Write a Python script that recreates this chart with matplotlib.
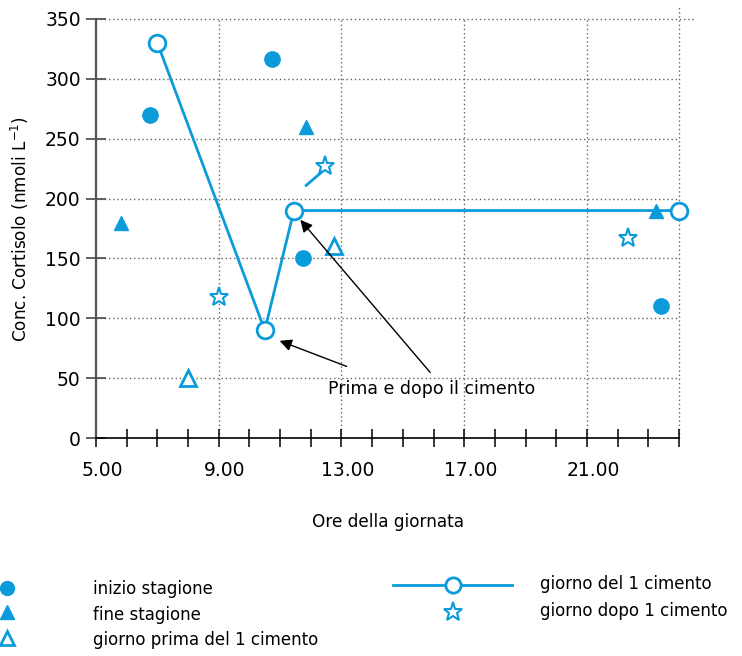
import numpy as np
import matplotlib
matplotlib.use("Agg")
import matplotlib.pyplot as plt
import matplotlib.transforms as mtransforms

# ore della giornata / conc. cortisolo (nmoli L-1)
inizio_x = [6.75, 10.75, 11.75, 23.4]
inizio_y = [270, 317, 150, 110]

fine_x = [5.8, 11.85, 23.25]
fine_y = [180, 260, 190]

prima_x = [8.0, 12.75]
prima_y = [50, 160]

cimento_x = [7.0, 10.5, 11.45, 24.0]
cimento_y = [330, 90, 190, 190]

dopo_x = [9.0, 12.45, 22.35]
dopo_y = [118, 227, 167]

# short stray stroke next to the star at 12.45
tratto_x = [11.85, 12.35]
tratto_y = [211, 222]

xticks = [5, 9, 13, 17, 21]
xticklabels = ["5.00", "9.00", "13.00", "17.00", "21.00"]
yticks = [0, 50, 100, 150, 200, 250, 300, 350]

blue = "#0b9bda"

fig = plt.figure(figsize=(7.42, 6.56), dpi=100)
ax = fig.add_axes([96 / 742, 1 - 438 / 656, (679 - 96) / 742, (438 - 19) / 656])

ax.set_xlim(5, 24)
ax.set_ylim(0, 350)

# grid
for yv in yticks[1:]:
    ax.axhline(yv, color="#666666", lw=1, ls=(0, (1, 2)), zorder=0,
               xmax=1.025 if yv == 350 else 1, clip_on=False)
for xv in [9, 13, 17, 21]:
    ax.axvline(xv, color="#666666", lw=1, ls=(0, (1, 2)), zorder=0)
ax.axvline(24, color="#666666", lw=1, ls=(0, (1, 2)), zorder=0, ymax=1.03, clip_on=False)

ax.plot(inizio_x, inizio_y, "o", color=blue, ms=11, ls="none", zorder=3)
ax.plot(fine_x, fine_y, "^", color=blue, ms=10, ls="none", zorder=3)
ax.plot(prima_x, prima_y, "^", mfc="white", mec=blue, mew=2, ms=12, ls="none", zorder=3)
ax.plot(cimento_x, cimento_y, "-o", color=blue, lw=2, mfc="white", mec=blue, mew=2,
        ms=12, zorder=4, clip_on=False)
ax.plot(dopo_x, dopo_y, "*", mfc="white", mec=blue, mew=1.5, ms=14, ls="none", zorder=3)
ax.plot(tratto_x, tratto_y, "-", color=blue, lw=2, zorder=3)

# annotation
ax.text(12.55, 41, "Prima e dopo il cimento", fontsize=12.5, va="center", ha="left")
ax.annotate("", xy=(10.9, 82), xytext=(13.25, 59),
            arrowprops=dict(arrowstyle="-|>", color="black", lw=1, mutation_scale=18))
ax.annotate("", xy=(11.6, 184), xytext=(15.95, 53),
            arrowprops=dict(arrowstyle="-|>", color="black", lw=1, mutation_scale=18))

for s in ["top", "right"]:
    ax.spines[s].set_visible(False)
ax.spines["left"].set_color("#555555")
ax.spines["left"].set_linewidth(1.6)
ax.spines["bottom"].set_color("black")
ax.spines["bottom"].set_linewidth(1.2)

ax.set_xticks(xticks)
ax.set_xticklabels(xticklabels, fontsize=13.5)
ax.set_xticks(np.arange(5, 25), minor=True)
ax.tick_params(axis="x", which="both", direction="inout", length=13, width=1.1,
               color="black", pad=10)
ax.set_yticks(yticks)
ax.set_yticklabels([str(v) for v in yticks], fontsize=13.5)
ax.tick_params(axis="y", direction="inout", length=14, width=1.3, color="#555555", pad=4)

offset = mtransforms.ScaledTranslation(6 / 100, 0, fig.dpi_scale_trans)
for lab in ax.get_xticklabels():
    lab.set_transform(lab.get_transform() + offset)

ax.set_xlabel("Ore della giornata", fontsize=12.2, labelpad=24)
ax.set_ylabel("Conc. Cortisolo (nmoli L$^{-1}$)", fontsize=12.2, labelpad=10)

# legend drawn in a figure-wide pixel frame
lg = fig.add_axes([0, 0, 1, 1], zorder=-1)
lg.set_xlim(0, 742)
lg.set_ylim(656, 0)
lg.axis("off")

lg.plot([7], [588], "o", color=blue, ms=10)
lg.plot([7], [612], "^", color=blue, ms=10)
lg.plot([7], [638], "^", mfc="white", mec=blue, mew=2, ms=10)
lg.text(93, 589, "inizio stagione", fontsize=12, va="center")
lg.text(93, 615, "fine stagione", fontsize=12, va="center")
lg.text(93, 640, "giorno prima del 1 cimento", fontsize=12, va="center")

lg.plot([393, 512], [585, 585], "-", color=blue, lw=2)
lg.plot([453], [585], "o", mfc="white", mec=blue, mew=2, ms=11)
lg.plot([453], [612], "*", mfc="white", mec=blue, mew=1.5, ms=14)
lg.text(540, 584, "giorno del 1 cimento", fontsize=12, va="center")
lg.text(540, 611, "giorno dopo 1 cimento", fontsize=12, va="center")

fig.savefig("out.png", dpi=100)
